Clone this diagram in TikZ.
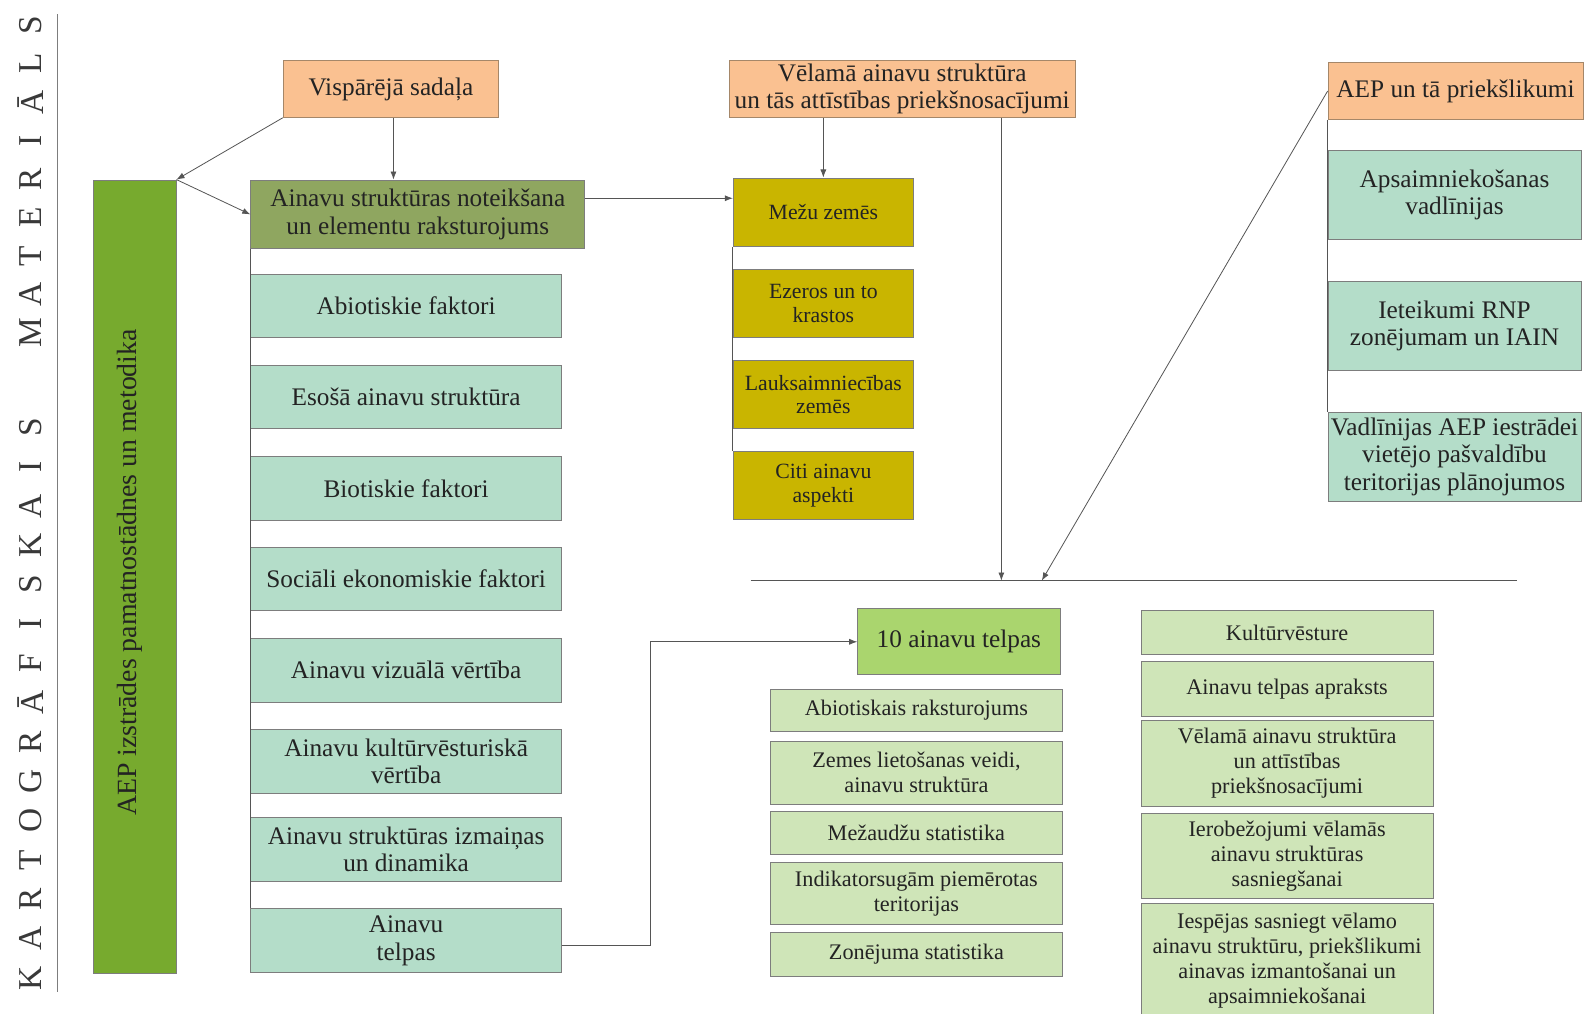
\documentclass[tikz,border=0pt]{standalone}
\usepackage{fontspec}
\setmainfont{Liberation Serif}
\usetikzlibrary{arrows.meta,calc}
\definecolor{peach}{RGB}{250,193,145}
\definecolor{peachline}{RGB}{165,135,105}
\definecolor{tallgreen}{RGB}{119,170,46}
\definecolor{olive}{RGB}{143,166,96}
\definecolor{teal}{RGB}{180,221,201}
\definecolor{ochre}{RGB}{201,181,0}
\definecolor{lgreen}{RGB}{170,213,110}
\definecolor{pgreen}{RGB}{207,229,184}
\definecolor{boxline}{RGB}{125,125,125}
\definecolor{linec}{RGB}{85,85,85}
\definecolor{textc}{RGB}{35,35,35}
\begin{document}
\begin{tikzpicture}[x=1pt,y=-1pt,
  box/.style={draw=boxline, line width=0.9pt, align=center, inner sep=1pt, text=textc},
  big/.style={font=\fontsize{25}{27}\selectfont},
  mid/.style={font=\fontsize{22}{24.7}\selectfont},
  sml/.style={font=\fontsize{21.5}{23.5}\selectfont},
  orng/.style={box, big, fill=peach, draw=peachline},
  tbox/.style={box, big, fill=teal, minimum width=307pt, minimum height=63pt},
  ybox/.style={box, sml, fill=ochre, minimum width=178pt, minimum height=68pt},
  rbox/.style={box, big, fill=teal, minimum width=250pt, minimum height=88pt},
  pbox/.style={box, mid, fill=pgreen, minimum width=288pt},
  qbox/.style={box, mid, fill=pgreen, minimum width=289pt},
  side/.style={font=\fontsize{33}{33}\selectfont, text=textc!90, rotate=90, inner sep=0pt},
  conn/.style={draw=linec, line width=0.8pt},
  arr/.style={conn, -{Latex[length=8pt,width=6pt]}}
]
\useasboundingbox (0,0) rectangle (1568,1002);

% side title
\foreach \ch [count=\i from 0] in {K,A,R,T,O,G,R,Ā,F,I,S,K,A,I,S}
  \node[side] (ka\i) at (30.5,{967-38.9*\i}) {\ch};
\foreach \ch [count=\i from 0] in {M,A,T,E,R,I,Ā,L,S}
  \node[side] (ma\i) at (30.5,{329-38*\i}) {\ch};
\coordinate (st) at (57,14);
\coordinate (sb) at (57,981);
\draw[draw=boxline, line width=0.8pt] (st) -- (sb);

% top boxes
\node[orng, minimum width=213pt, minimum height=56pt] (vis) at (386.5,88) {Vispārējā sadaļa};
\node[orng, minimum width=342pt, minimum height=56pt] (vel) at (892,88) {Vēlamā ainavu struktūra\\un tās attīstības priekšnosacījumi};
\node[orng, minimum width=252pt, minimum height=56pt] (aep) at (1439,90) {AEP un tā priekšlikumi};

% tall green box
\node[box, fill=tallgreen, minimum width=82pt, minimum height=784pt] (tall) at (133,570) {};
\node[rotate=90, text=textc, font=\fontsize{27.5}{30}\selectfont] (talltxt) at (128,566) {AEP izstrādes pamatnostādnes un metodika};

% left column
\node[box, big, fill=olive, minimum width=330pt, minimum height=68pt] (ains) at (413,212) {Ainavu struktūras noteikšana\\un elementu raksturojums};
\node[tbox] (l1) at (401.5,302.5) {Abiotiskie faktori};
\node[tbox] (l2) at (401.5,392.5) {Esošā ainavu struktūra};
\node[tbox] (l3) at (401.5,483) {Biotiskie faktori};
\node[tbox] (l4) at (401.5,572.5) {Sociāli ekonomiskie faktori};
\node[tbox] (l5) at (401.5,662.5) {Ainavu vizuālā vērtība};
\node[tbox] (l6) at (401.5,752.5) {Ainavu kultūrvēsturiskā\\vērtība};
\node[tbox] (l7) at (401.5,839.5) {Ainavu struktūras izmaiņas\\un dinamika};
\node[tbox] (l8) at (401.5,930) {Ainavu\\telpas};

% ochre column
\node[ybox] (y1) at (814,210) {Mežu zemēs};
\node[ybox] (y2) at (814,300) {Ezeros un to\\krastos};
\node[ybox] (y3) at (814,390) {Lauksaimniecības\\zemēs};
\node[ybox] (y4) at (814,480) {Citi ainavu\\aspekti};

% right column
\node[rbox] (r1) at (1438,192.5) {Apsaimniekošanas\\vadlīnijas};
\node[rbox] (r2) at (1438,322) {Ieteikumi RNP\\zonējumam un IAIN};
\node[rbox] (r3) at (1438,451.5) {Vadlīnijas AEP iestrādei\\vietējo pašvaldību\\teritorijas plānojumos};

% horizontal bar
\coordinate (hl) at (742,574);
\coordinate (hr) at (1500,574);
\coordinate (j1) at (990,574);
\coordinate (j2) at (1030,574);
\draw[conn] (hl) -- (hr);

% 10 ainavu telpas
\node[box, big, fill=lgreen, minimum width=200pt, minimum height=65pt] (ten) at (948,634.5) {10 ainavu telpas};
\node[pbox, minimum height=41pt] (m1) at (906,702.5) {Abiotiskais raksturojums};
\node[pbox, minimum height=62pt] (m2) at (906,764) {Zemes lietošanas veidi,\\ainavu struktūra};
\node[pbox, minimum height=43pt] (m3) at (906,823.5) {Mežaudžu statistika};
\node[pbox, minimum height=61pt] (m4) at (906,883.5) {Indikatorsugām piemērotas\\teritorijas};
\node[pbox, minimum height=43pt] (m5) at (906,943.5) {Zonējuma statistika};

% right lower block
\node[qbox, minimum height=43pt] (q1) at (1272.5,625.5) {Kultūrvēsture};
\node[qbox, minimum height=54pt] (q2) at (1272.5,681) {Ainavu telpas apraksts};
\node[qbox, minimum height=85pt] (q3) at (1272.5,754.5) {Vēlamā ainavu struktūra\\un attīstības\\priekšnosacījumi};
\node[qbox, minimum height=84pt] (q4) at (1272.5,846) {Ierobežojumi vēlamās\\ainavu struktūras\\sasniegšanai};
\node[qbox, minimum height=114pt] (q5) at (1272.5,950) {Iespējas sasniegt vēlamo\\ainavu struktūru, priekšlikumi\\ainavas izmantošanai un\\apsaimniekošanai};

% tree lines
\draw[conn] (ains.south west) -- (l8.north west);
\draw[conn] (y1.south west) -- (y4.north west);
\draw[conn] (aep.south west) -- (r3.north west);

% connectors
\draw[arr] (vis.south west) -- (tall.north east);
\draw[arr] (vis.south -| 389,0) -- (ains.north -| 389,0);
\draw[arr] (tall.north east) -- (ains.west);
\draw[arr] ([yshift=16pt]ains.east) -- ([yshift=14pt]y1.west);
\draw[arr] (vel.south -| y1.north) -- (y1.north);
\draw[arr] (vel.south -| j1) -- (j1);
\draw[arr] (aep.west) -- (j2);
\draw[arr] ([yshift=-5pt]l8.east) -| (643,634.5) -- (ten.west);
\end{tikzpicture}
\end{document}
